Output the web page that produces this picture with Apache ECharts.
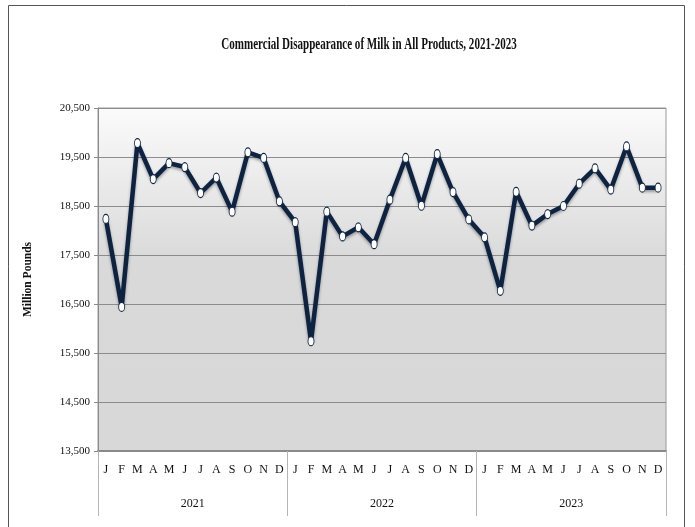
<!DOCTYPE html>
<html>
<head>
<meta charset="utf-8">
<script src="https://cdn.jsdelivr.net/npm/echarts@6/dist/echarts.min.js"></script>
<style>
  html, body { margin: 0; padding: 0; background: #ffffff; }
  #chart { width: 695px; height: 527px; }
</style>
</head>
<body>
<div id="chart"></div>
<script>
// Monthly commercial disappearance of milk in all products (million pounds)
const years = ['2021', '2022', '2023'];
const monthNames = ['Jan', 'Feb', 'Mar', 'Apr', 'May', 'Jun', 'Jul', 'Aug', 'Sep', 'Oct', 'Nov', 'Dec'];
const milk2021 = [18235, 16440, 19785, 19050, 19375, 19295, 18765, 19080, 18385, 19595, 19480, 18595];
const milk2022 = [18170, 15740, 18385, 17880, 18065, 17720, 18630, 19480, 18505, 19560, 18785, 18225];
const milk2023 = [17860, 16770, 18790, 18100, 18335, 18500, 18955, 19270, 18835, 19715, 18875, 18875];
const yTicks = [13500, 14500, 15500, 16500, 17500, 18500, 19500, 20500];

const categories = [];
years.forEach(y => monthNames.forEach(m => categories.push(m + ' ' + y)));
const values = milk2021.concat(milk2022, milk2023);

const serif = '"Liberation Serif", "Times New Roman", serif';
const navy = '#0d2341';

const chart = echarts.init(document.getElementById('chart'), null, { renderer: 'canvas' });

chart.setOption({
  animation: false,
  backgroundColor: '#ffffff',
  graphic: [
    {
      type: 'rect',
      silent: true,
      shape: { x: 8.5, y: 5.5, width: 676, height: 540 },
      style: { fill: 'none', stroke: '#555555', lineWidth: 1 }
    },
    {
      type: 'text',
      silent: true,
      x: 369,
      y: 45,
      scaleX: 0.65,
      style: {
        text: 'Commercial Disappearance of Milk in All Products, 2021-2023',
        font: 'bold 17px ' + serif,
        fill: '#111111',
        align: 'center',
        verticalAlign: 'middle'
      }
    }
  ],
  grid: {
    left: 98,
    right: 29,
    top: 108,
    bottom: 76,
    show: true,
    borderColor: '#9a9a9a',
    borderWidth: 1,
    backgroundColor: {
      type: 'linear', x: 0, y: 0, x2: 0, y2: 1,
      colorStops: [
        { offset: 0, color: '#fbfbfb' },
        { offset: 0.45, color: '#d9d9d9' },
        { offset: 1, color: '#d8d8d8' }
      ]
    }
  },
  xAxis: [
    {
      type: 'category',
      data: categories,
      boundaryGap: true,
      position: 'bottom',
      axisLine: { show: true, lineStyle: { color: '#8a8a8a', width: 2 } },
      axisTick: { show: false },
      axisLabel: {
        interval: 0,
        margin: 13,
        fontFamily: serif,
        fontSize: 12,
        color: '#111111',
        formatter: v => v.charAt(0)
      },
      splitLine: { show: false }
    },
    {
      type: 'category',
      data: years,
      boundaryGap: true,
      position: 'bottom',
      axisLine: { show: false },
      axisTick: { show: true, length: 65, lineStyle: { color: '#b5b5b5', width: 1 } },
      axisLabel: {
        margin: 47,
        fontFamily: serif,
        fontSize: 12,
        color: '#111111'
      },
      splitLine: { show: false }
    }
  ],
  yAxis: {
    type: 'value',
    min: 13500,
    max: 20500,
    name: 'Million Pounds',
    nameLocation: 'middle',
    nameGap: 64,
    nameRotate: 90,
    nameTextStyle: { fontFamily: serif, fontSize: 11.5, fontWeight: 'bold', color: '#111111' },
    axisLine: { show: true, lineStyle: { color: '#8a8a8a', width: 1 } },
    axisTick: { show: true, length: 4, customValues: yTicks, lineStyle: { color: '#8a8a8a' } },
    axisLabel: {
      customValues: yTicks,
      margin: 8,
      fontFamily: serif,
      fontSize: 11,
      color: '#111111',
      formatter: v => v.toLocaleString('en-US')
    },
    splitLine: { show: true, lineStyle: { color: '#8c8c8c', width: 1 } }
  },
  series: [
    {
      type: 'line',
      xAxisIndex: 0,
      data: values,
      symbol: 'circle',
      symbolSize: [6, 9],
      showAllSymbol: true,
      lineStyle: {
        color: navy,
        width: 4.5,
        shadowColor: 'rgba(0,0,0,0.35)',
        shadowBlur: 3,
        shadowOffsetY: 2
      },
      itemStyle: { color: '#ffffff', borderColor: navy, borderWidth: 1 },
      emphasis: { disabled: true }
    }
  ]
});
</script>
</body>
</html>
